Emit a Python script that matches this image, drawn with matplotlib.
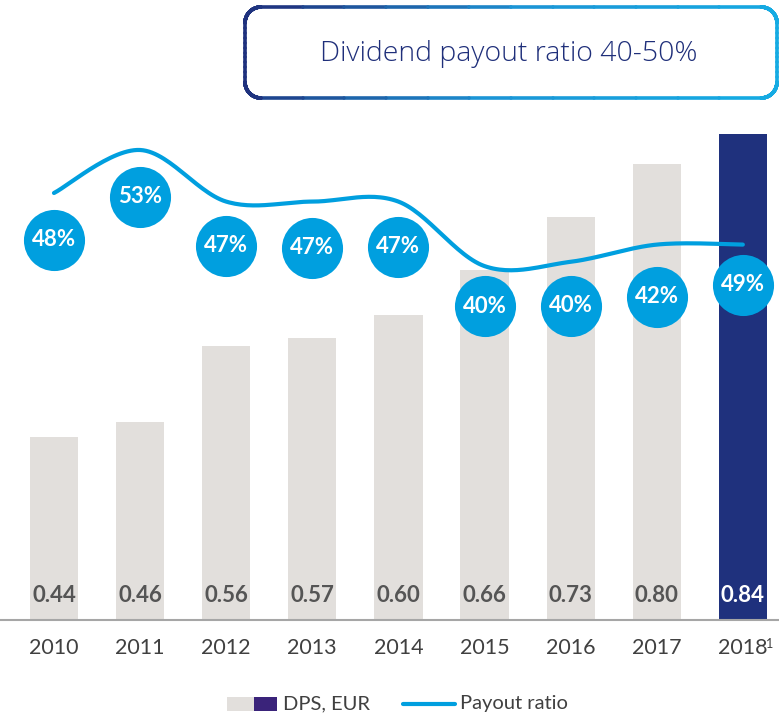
import numpy as np
import matplotlib
matplotlib.use("Agg")
from matplotlib import pyplot as plt
from matplotlib.collections import LineCollection
from matplotlib.colors import LinearSegmentedColormap
from matplotlib.patches import Rectangle
from matplotlib.lines import Line2D
from matplotlib.transforms import offset_copy

plt.rcParams['font.family'] = ['Lato', 'DejaVu Sans']

# data
years = ['2010', '2011', '2012', '2013', '2014', '2015', '2016', '2017', '2018']
dps = [0.44, 0.46, 0.56, 0.57, 0.60, 0.66, 0.73, 0.80, 0.84]
dps_labels = ['0.44', '0.46', '0.56', '0.57', '0.60', '0.66', '0.73', '0.80', '0.84']
payout_line = [48, 53, 47, 47, 47, 39.5, 40, 42, 42]
payout_labels = ['48%', '53%', '47%', '47%', '47%', '40%', '40%', '42%', '49%']
# how far (px) each bubble sits below the line
bubble_drop = [47, 47, 44, 46, 45, 40, 44, 52, 40]

GREY = '#E2DFDC'
NAVY = '#1F317D'
BLUE = '#009FDF'
TEXT = '#404040'

W, H = 779, 716
fig = plt.figure(figsize=(W / 100, H / 100), dpi=100)
ax = fig.add_axes([0, 1 - 620 / H, 1, 620 / H])
x = np.arange(len(years))
colors = [GREY] * (len(years) - 1) + [NAVY]
ax.bar(x, dps, width=0.56, color=colors, zorder=1)
ax.set_xlim(-0.627, 8.42)
ax.set_ylim(0.198, 0.198 + 620 / 757.5)
for s in ['top', 'left', 'right']:
    ax.spines[s].set_visible(False)
ax.spines['bottom'].set_color('#A6A6A6')
ax.spines['bottom'].set_linewidth(1.5)
ax.set_yticks([])
ax.set_xticks(x)
ax.set_xticklabels(years, fontsize=15.5, color=TEXT)
ax.tick_params(axis='x', length=0, pad=13)
for i, lab in enumerate(dps_labels):
    ax.text(i, 25 / 620, lab, transform=ax.get_xaxis_transform(),
            ha='center', va='center', fontsize=16, fontweight='bold',
            color='white' if i == len(years) - 1 else '#555555')

# payout ratio on its own scale
ax2 = ax.twinx()
ax2.set_ylim(-1.65, 70.44)
ax2.set_axis_off()

def smooth(xs, ys, n=30):
    p = np.column_stack([xs, ys]).astype(float)
    p = np.vstack([p[0], p, p[-1]])
    out = []
    for k in range(1, len(p) - 2):
        p0, p1, p2, p3 = p[k - 1], p[k], p[k + 1], p[k + 2]
        c1 = p1 + (p2 - p0) / 6
        c2 = p2 - (p3 - p1) / 6
        t = np.linspace(0, 1, n)[:, None]
        seg = ((1 - t) ** 3) * p1 + 3 * ((1 - t) ** 2) * t * c1 + 3 * (1 - t) * t ** 2 * c2 + t ** 3 * p2
        out.append(seg)
    out = np.vstack(out)
    return out[:, 0], out[:, 1]

sx, sy = smooth(x, payout_line)
ax2.plot(sx, sy, color=BLUE, lw=3, solid_capstyle='round', zorder=3)
for i, (v, lab, d) in enumerate(zip(payout_line, payout_labels, bubble_drop)):
    tr = offset_copy(ax2.transData, fig=fig, x=0, y=-d * 0.72, units='points')
    ax2.scatter([i], [v], s=44 ** 2, color=BLUE, transform=tr, zorder=4, linewidths=0)
    ax2.text(i, v, lab, transform=tr, ha='center', va='center', fontsize=16,
             fontweight='bold', color='white', zorder=5)

# overlay in pixel space: title box, legend, footnote
ov = fig.add_axes([0, 0, 1, 1], facecolor='none')
ov.set_xlim(0, W)
ov.set_ylim(H, 0)
ov.set_axis_off()

x0, x1, y0, y1, r = 245, 777, 7, 98, 16
pts = []
for cx, cy, a0 in [(x1 - r, y0 + r, -90), (x1 - r, y1 - r, 0), (x0 + r, y1 - r, 90), (x0 + r, y0 + r, 180)]:
    ang = np.radians(np.linspace(a0, a0 + 90, 20))
    pts.append(np.column_stack([cx + r * np.cos(ang), cy + r * np.sin(ang)]))
pts = np.vstack(pts + [pts[0][:1]])
# densify so the colour gradient is smooth along straight edges
dense = []
for a, b in zip(pts[:-1], pts[1:]):
    for t in np.linspace(0, 1, 12, endpoint=False):
        dense.append(a + (b - a) * t)
dense.append(pts[-1])
dense = np.array(dense)
segs = np.stack([dense[:-1], dense[1:]], axis=1)
cmap = LinearSegmentedColormap.from_list('grad', [NAVY, '#1B95D6', '#15ABE3'])
lc = LineCollection(segs, cmap=cmap, linewidths=2.6, capstyle='round')
lc.set_array((segs[:, 0, 0] - x0) / (x1 - x0))
lc.set_clim(0, 1)
ov.add_collection(lc)
ov.text(509, 54, 'Dividend payout ratio 40-50%', ha='center', va='center',
        fontsize=20.5, color='#1F2F7A', family=['Open Sans', 'DejaVu Sans'],
        fontweight='light')

ov.text(766, 644, '1', fontsize=9, color=TEXT, ha='left', va='center')

ov.add_patch(Rectangle((227, 697), 27, 14, color=GREY, lw=0))
ov.add_patch(Rectangle((254, 697), 23, 14, color='#3A237A', lw=0))
ov.text(283, 704, 'DPS, EUR', fontsize=14.5, color=TEXT, va='center')
ov.add_line(Line2D([403, 455], [704, 704], color=BLUE, lw=3, solid_capstyle='round'))
ov.text(460, 704, 'Payout ratio', fontsize=14.5, color=TEXT, va='center')

fig.savefig('out.png', dpi=100)
